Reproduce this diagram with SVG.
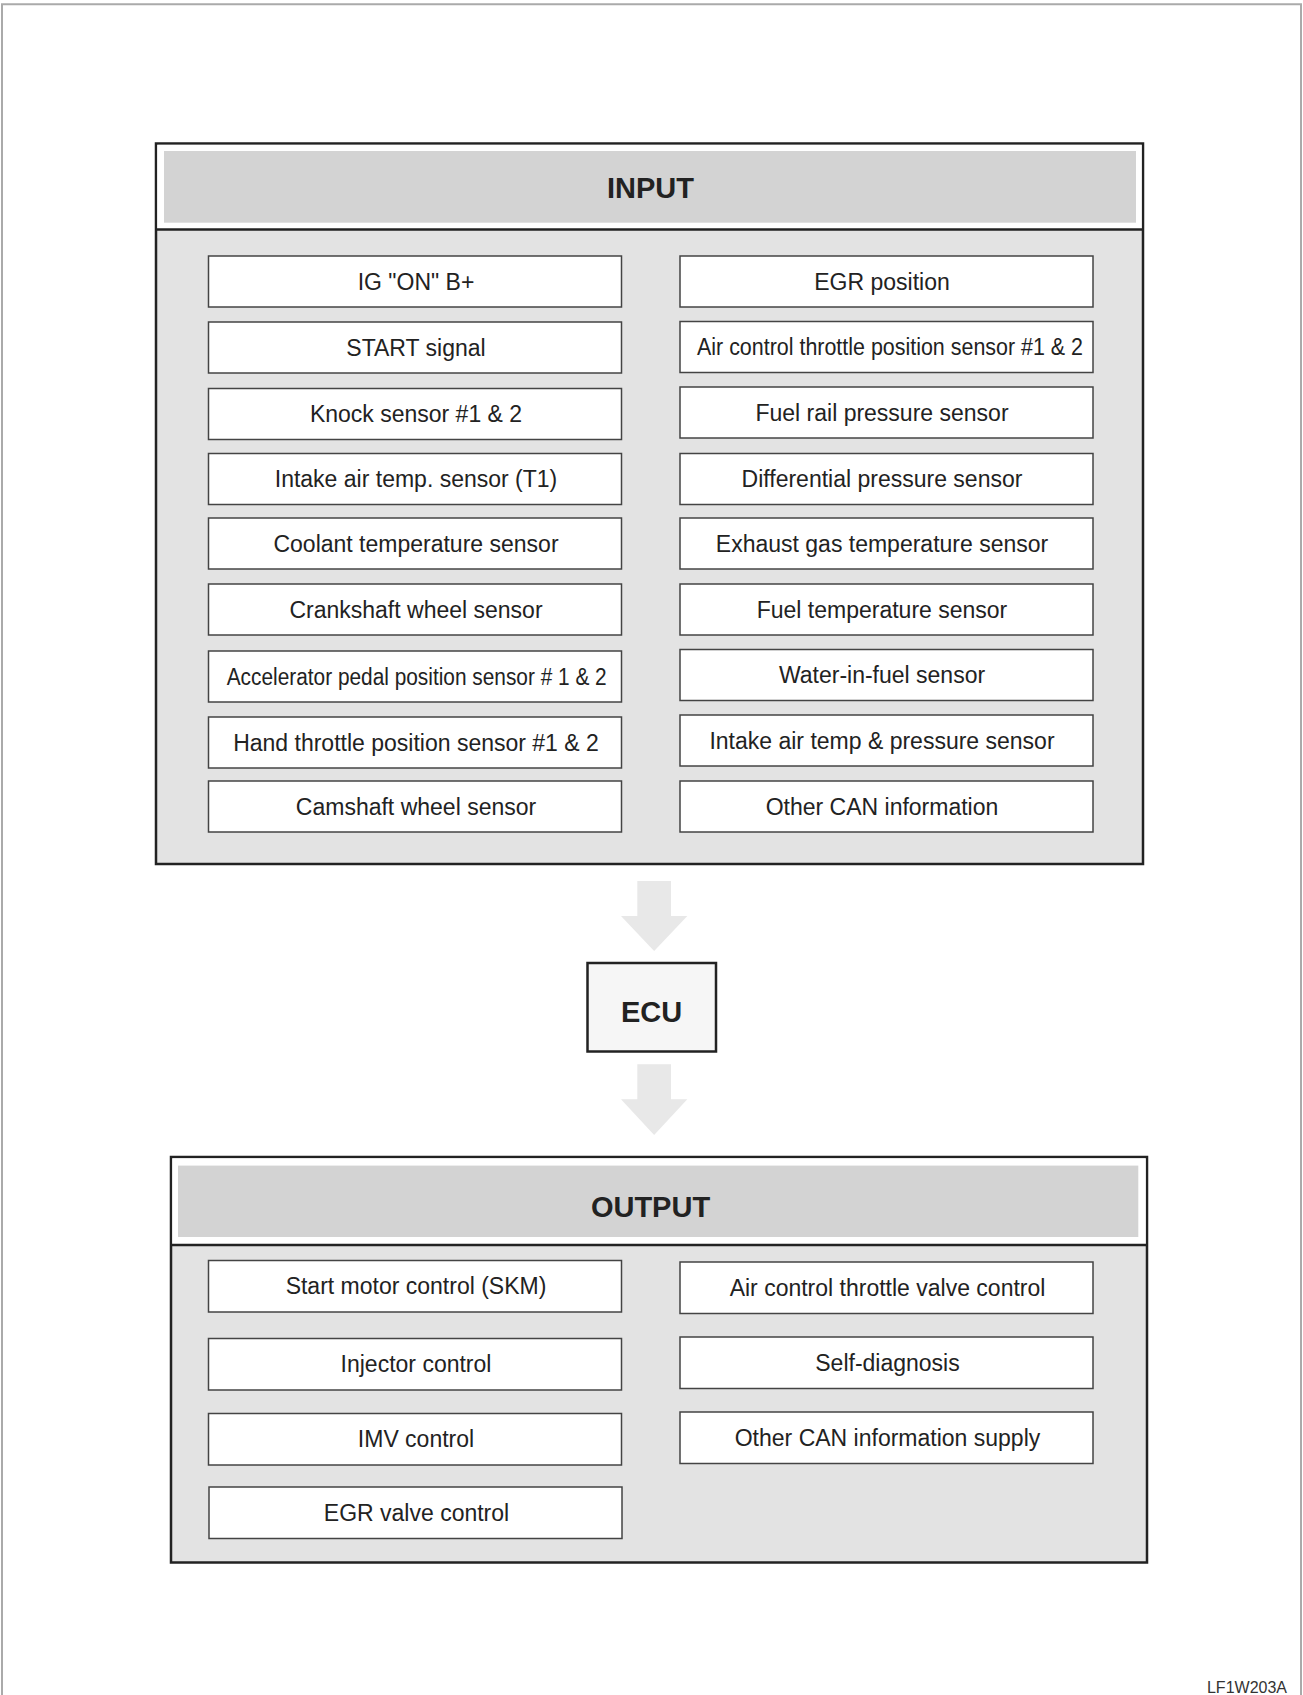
<svg xmlns="http://www.w3.org/2000/svg" width="1303" height="1695" viewBox="0 0 1303 1695">
<style>
.t{font-family:"Liberation Sans",Arial,sans-serif;font-size:23px;fill:#222;text-anchor:middle}
.h{font-family:"Liberation Sans",Arial,sans-serif;font-size:29px;font-weight:bold;fill:#222;text-anchor:middle}
.b{fill:#fff;stroke:#444;stroke-width:1.5}
.panel{fill:#e3e3e3;stroke:#222;stroke-width:2.5}
.hdr{fill:#d3d3d3}
.div{stroke:#222;stroke-width:2.5}
.arr{fill:#e8e8e8}
</style>
<rect x="0" y="0" width="1303" height="1695" fill="#fff"/>
<path d="M2,1695 V4.3 H1301 V1695" fill="none" stroke="#aaa" stroke-width="2"/>

<g id="input">
<rect class="panel" x="156" y="143.5" width="987" height="720.5"/>
<rect x="157.3" y="144.8" width="984.4" height="84.7" fill="#fff"/>
<rect class="hdr" x="164" y="151" width="972" height="71.7"/>
<line class="div" x1="156" y1="229.5" x2="1143" y2="229.5"/>
<text class="h" x="650.5" y="197.7">INPUT</text>
</g>

<g id="in-l1"><rect class="b" x="208.5" y="256" width="413" height="51"/><text class="t" x="416" y="289.5">IG "ON" B+</text></g>
<g id="in-l2"><rect class="b" x="208.5" y="322" width="413" height="51"/><text class="t" x="416" y="355.5">START signal</text></g>
<g id="in-l3"><rect class="b" x="208.5" y="388.5" width="413" height="51"/><text class="t" x="416" y="422">Knock sensor #1 &amp; 2</text></g>
<g id="in-l4"><rect class="b" x="208.5" y="453.5" width="413" height="51"/><text class="t" x="416" y="487">Intake air temp. sensor (T1)</text></g>
<g id="in-l5"><rect class="b" x="208.5" y="518" width="413" height="51"/><text class="t" x="416" y="551.5">Coolant temperature sensor</text></g>
<g id="in-l6"><rect class="b" x="208.5" y="584" width="413" height="51"/><text class="t" x="416" y="617.5">Crankshaft wheel sensor</text></g>
<g id="in-l7"><rect class="b" x="208.5" y="651" width="413" height="51"/><text class="t" x="416.7" y="684.5" textLength="380" lengthAdjust="spacingAndGlyphs">Accelerator pedal position sensor # 1 &amp; 2</text></g>
<g id="in-l8"><rect class="b" x="208.5" y="717" width="413" height="51"/><text class="t" x="416" y="750.5">Hand throttle position sensor #1 &amp; 2</text></g>
<g id="in-l9"><rect class="b" x="208.5" y="781" width="413" height="51"/><text class="t" x="416" y="814.5">Camshaft wheel sensor</text></g>

<g id="in-r1"><rect class="b" x="680" y="256" width="413" height="51"/><text class="t" x="882" y="289.5">EGR position</text></g>
<g id="in-r2"><rect class="b" x="680" y="321.5" width="413" height="51"/><text class="t" x="890" y="355" textLength="386" lengthAdjust="spacingAndGlyphs">Air control throttle position sensor #1 &amp; 2</text></g>
<g id="in-r3"><rect class="b" x="680" y="387" width="413" height="51"/><text class="t" x="882" y="420.5">Fuel rail pressure sensor</text></g>
<g id="in-r4"><rect class="b" x="680" y="453.5" width="413" height="51"/><text class="t" x="882" y="487">Differential pressure sensor</text></g>
<g id="in-r5"><rect class="b" x="680" y="518" width="413" height="51"/><text class="t" x="882" y="551.5">Exhaust gas temperature sensor</text></g>
<g id="in-r6"><rect class="b" x="680" y="584" width="413" height="51"/><text class="t" x="882" y="617.5">Fuel temperature sensor</text></g>
<g id="in-r7"><rect class="b" x="680" y="649.5" width="413" height="51"/><text class="t" x="882" y="683">Water-in-fuel sensor</text></g>
<g id="in-r8"><rect class="b" x="680" y="715" width="413" height="51"/><text class="t" x="882" y="748.5">Intake air temp &amp; pressure sensor</text></g>
<g id="in-r9"><rect class="b" x="680" y="781" width="413" height="51"/><text class="t" x="882" y="814.5">Other CAN information</text></g>

<g id="connectors">
<polygon class="arr" points="637.3,881 671,881 671,916 687.3,916 654.15,951 621,916 637.3,916"/>
<polygon class="arr" points="637.3,1064.3 671,1064.3 671,1099.3 687.3,1099.3 654.15,1135 621,1099.3 637.3,1099.3"/>
</g>

<g id="ecu">
<rect x="587.5" y="963" width="128.5" height="88.5" fill="#f6f6f6" stroke="#222" stroke-width="2.5"/>
<text class="h" x="651.5" y="1021.7">ECU</text>
</g>

<g id="output">
<rect class="panel" x="171" y="1157" width="976" height="405.5"/>
<rect x="172.3" y="1158.3" width="973.4" height="86.7" fill="#fff"/>
<rect class="hdr" x="178" y="1165.6" width="960.3" height="71.4"/>
<line class="div" x1="171" y1="1245" x2="1147" y2="1245"/>
<text class="h" x="650.5" y="1216.5">OUTPUT</text>
</g>

<g id="out-l1"><rect class="b" x="208.5" y="1260.5" width="413" height="51.5"/><text class="t" x="416" y="1294.2">Start motor control (SKM)</text></g>
<g id="out-l2"><rect class="b" x="208.5" y="1338.5" width="413" height="51.5"/><text class="t" x="416" y="1372.2">Injector control</text></g>
<g id="out-l3"><rect class="b" x="208.5" y="1413.5" width="413" height="51.5"/><text class="t" x="416" y="1447.2">IMV control</text></g>
<g id="out-l4"><rect class="b" x="209" y="1487" width="413" height="51.5"/><text class="t" x="416.5" y="1520.7">EGR valve control</text></g>

<g id="out-r1"><rect class="b" x="680" y="1262" width="413" height="51.5"/><text class="t" x="887.5" y="1295.7">Air control throttle valve control</text></g>
<g id="out-r2"><rect class="b" x="680" y="1337" width="413" height="51.5"/><text class="t" x="887.5" y="1370.7">Self-diagnosis</text></g>
<g id="out-r3"><rect class="b" x="680" y="1412" width="413" height="51.5"/><text class="t" x="887.5" y="1445.7">Other CAN information supply</text></g>

<text x="1287" y="1693" font-family="'Liberation Sans',Arial,sans-serif" font-size="16" fill="#333" text-anchor="end">LF1W203A</text>
</svg>
